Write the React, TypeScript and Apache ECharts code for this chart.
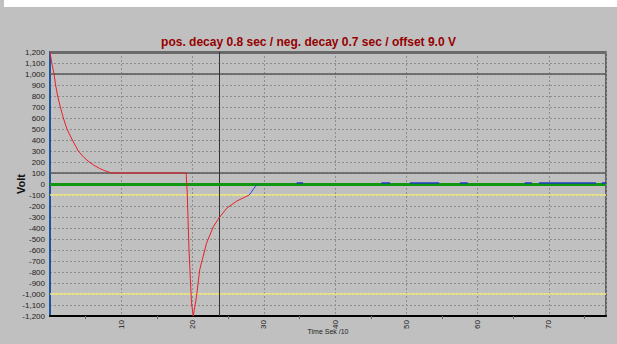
import React, { useEffect, useRef } from "react";
import * as echarts from "echarts";

const titleText = "pos. decay 0.8 sec / neg. decay 0.7 sec / offset 9.0 V";
const yAxisName = "Volt";
const xAxisName = "Time Sek /10";

const redX = [0, 0.25, 0.56, 0.8, 1.07, 1.45, 1.87, 2.38, 3.13, 3.97, 4.7, 5.5, 6.3, 7.0, 7.7, 8.65, 19.1, 19.25, 19.5, 19.85, 20.1, 20.55, 21.0, 21.95, 22.9, 23.7, 24.8, 26.2, 27.95];
const redY = [1200, 1100, 1000, 895, 800, 700, 600, 500, 400, 300, 245, 200, 165, 140, 120, 100, 100, -80, -600, -1080, -1200, -1025, -780, -540, -390, -310, -220, -155, -100];

const blueRiseX = [27.95, 29.0];
const blueRiseY = [-100, -5];

// small blue segments near zero: [start, end]
const blueSegments = [
  [34.6, 35.5],
  [46.5, 47.7],
  [50.5, 54.6],
  [57.5, 58.6],
  [66.6, 67.6],
  [68.6, 76.6],
  [77.4, 78],
];
const blueSegY = 8;

const xTickLabels = [10, 20, 30, 40, 50, 60, 70];
const solidLevels = [1000, 100];
const yellowLevels = [-100, -1000];
const greenLevel = 0;
const cursorX = 23.7;

export default function App() {
  const ref = useRef<HTMLDivElement>(null);
  useEffect(() => {
    if (!ref.current) return;
    const chart = echarts.init(ref.current, undefined, { renderer: "svg" });

    const redData = redX.map((x, i) => [x, redY[i]]);
    const blueRise = blueRiseX.map((x, i) => [x, blueRiseY[i]]);
    const blueSeg: any[] = [];
    blueSegments.forEach(([a, b], i) => {
      if (i > 0) blueSeg.push([a, "-"]);
      blueSeg.push([a, blueSegY]);
      blueSeg.push([b, blueSegY]);
    });

    chart.setOption({
      animation: false,
      backgroundColor: "#c0c0c0",
      title: {
        text: titleText,
        left: "center",
        top: 31,
        textStyle: {
          color: "#950000",
          fontSize: 12,
          fontWeight: "bold",
          fontFamily: "Liberation Sans, Arial, sans-serif",
        },
      },
      graphic: [
        {
          type: "rect",
          shape: { x: 4, y: 0, width: 617, height: 7 },
          style: { fill: "#ffffff" },
          silent: true,
        },
      ],
      grid: {
        left: 50,
        right: 11,
        top: 52,
        bottom: 28,
        outerBoundsMode: "none",
        containLabel: false,
        show: true,
        backgroundColor: "#c0c0c0",
        borderColor: "#444",
        borderWidth: 1.5,
      },
      xAxis: {
        type: "value",
        min: 0,
        max: 78,
        interval: 10,
        name: xAxisName,
        nameLocation: "middle",
        nameGap: 12,
        nameMoveOverlap: false,
        nameTextStyle: { fontSize: 7, color: "#222", fontFamily: "Liberation Sans, Arial, sans-serif" },
        axisLine: { show: true, onZero: false, lineStyle: { color: "#000", width: 2 } },
        axisTick: { show: false },
        minorTick: { show: true, splitNumber: 2, length: 3, lineStyle: { color: "#666" } },
        axisLabel: {
          rotate: 90,
          fontSize: 8,
          color: "#222",
          margin: 4,
          showMaxLabel: false,
          showMinLabel: false,
          fontFamily: "Liberation Sans, Arial, sans-serif",
          formatter: (v: number) => (xTickLabels.includes(v) ? String(v) : ""),
        },
        splitLine: { show: true, lineStyle: { color: "#8c8c8c", type: [2, 2], width: 1 } },
      },
      yAxis: {
        type: "value",
        min: -1200,
        max: 1200,
        interval: 100,
        name: yAxisName,
        nameLocation: "middle",
        nameGap: 24,
        nameMoveOverlap: false,
        nameTextStyle: { fontSize: 11, fontWeight: "bold", color: "#111", fontFamily: "Liberation Sans, Arial, sans-serif" },
        axisLine: { show: true, onZero: false, lineStyle: { color: "#1a55a0", width: 2 } },
        axisTick: { show: false },
        axisLabel: {
          fontSize: 8,
          color: "#222",
          margin: 5,
          fontFamily: "Liberation Sans, Arial, sans-serif",
          formatter: (v: number) => v.toLocaleString("en-US"),
        },
        splitLine: { show: true, lineStyle: { color: "#8c8c8c", type: [2, 2], width: 1 } },
      },
      series: [
        {
          type: "line",
          data: [],
          silent: true,
          markLine: {
            symbol: "none",
            silent: true,
            label: { show: false },
            data: [
              ...solidLevels.map((v) => ({ yAxis: v, lineStyle: { color: "#5a5a5a", width: 1.5, type: "solid" } })),
              { yAxis: 1200, lineStyle: { color: "#6a6a6a", width: 3, type: "solid" } },
              ...yellowLevels.map((v) => ({ yAxis: v, lineStyle: { color: "#f0ee80", width: 1.5, type: "solid" } })),
              { xAxis: cursorX, lineStyle: { color: "#333", width: 1, type: "solid" } },
              { yAxis: greenLevel, lineStyle: { color: "#119611", width: 3, type: "solid" } },
            ],
          },
        },
        {
          type: "line",
          data: redData,
          showSymbol: false,
          lineStyle: { color: "#e8202a", width: 1 },
          z: 5,
        },
        {
          type: "line",
          data: blueRise,
          showSymbol: false,
          lineStyle: { color: "#3040e0", width: 1 },
          z: 5,
        },
        {
          type: "line",
          data: blueSeg,
          showSymbol: false,
          connectNulls: false,
          lineStyle: { color: "#1f3fbf", width: 1.5 },
          z: 6,
        },
      ],
    });
    return () => chart.dispose();
  }, []);
  return <div ref={ref} style={{ width: 617, height: 344, position: "absolute", left: 0, top: 0 }} />;
}
